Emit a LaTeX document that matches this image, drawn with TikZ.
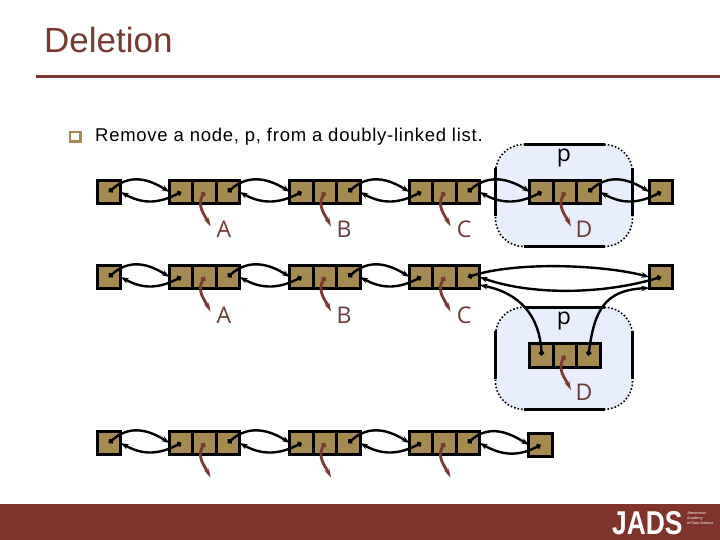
\documentclass[tikz,border=0pt]{standalone}
\usepackage{fontspec}
\setmainfont{Liberation Sans}
\newfontfamily\lblfont{Open Sans}
\newfontfamily\spacedfont[LetterSpace=4]{Liberation Sans}
\usetikzlibrary{arrows.meta}
\definecolor{brick}{HTML}{7A3A32}
\definecolor{bar}{HTML}{7F342B}
\definecolor{cellfill}{HTML}{A58A52}
\definecolor{halo}{HTML}{E8EEFB}
\definecolor{lbltext}{HTML}{6E3A36}
\tikzset{
  cellbox/.style={draw=black,line width=3pt,fill=cellfill,inner sep=0,outer sep=0,minimum width=23.4pt,minimum height=23.2pt},
  linkline/.style={draw=black,line width=2.4pt,{Circle[length=5pt]}-{Stealth[length=8pt,width=5.5pt]}},
  itemline/.style={draw=brick,line width=2.8pt,{Circle[length=5pt]}-{Stealth[length=9pt,width=5pt]}},
  halobox/.style={fill=halo,draw=black,line width=1.6pt,dotted,rounded corners=28pt,inner sep=0,outer sep=0,minimum width=137pt,minimum height=102pt},
  halorule/.style={draw=black,line width=2.4pt,solid},
  itemlabel/.style={font=\lblfont\fontsize{23}{23}\selectfont,text=lbltext,inner sep=0},
  plabel/.style={font=\lblfont\fontsize{23}{23}\selectfont,text=black,inner sep=0}
}
% three-cell list node: name, centre x of the middle cell, centre y
\newcommand{\listnode}[3]{%
  \node[cellbox] (#1l) at (#2-23.4,#3) {};
  \node[cellbox] (#1m) at (#2,#3) {};
  \node[cellbox] (#1r) at (#2+23.4,#3) {};
}
\newcommand{\dlink}[2]{%
  \draw[linkline] (#1.center) .. controls +(20,-18) and +(-22,-14) .. (#2.west);
  \draw[linkline] (#2.center) .. controls +(-25,13) and +(20,11) .. (#1.east);
}
\newcommand{\itemptr}[1]{%
  \coordinate (#1end) at ([xshift=6pt,yshift=-23pt]#1m.south);
  \draw[itemline] (#1m.center) .. controls +(-8,14) and +(-6,-12) .. (#1end);
}
\newcommand{\halo}[2]{%
  \node[halobox] (#1) at #2 {};
  \draw[halorule] ([xshift=28pt]#1.north west) -- ([xshift=-28pt]#1.north east);
  \draw[halorule] ([xshift=28pt]#1.south west) -- ([xshift=-28pt]#1.south east);
  \draw[halorule] ([yshift=-24pt]#1.north west) -- ([yshift=30pt]#1.south west);
  \draw[halorule] ([yshift=-24pt]#1.north east) -- ([yshift=30pt]#1.south east);
}
\begin{document}
\begin{tikzpicture}[x=1pt,y=-1pt]
\useasboundingbox (0,0) rectangle (720,540);
\fill[white] (0,0) rectangle (720,540);
% header
\node[anchor=base west,inner sep=0,text=brick,font=\fontsize{35}{35}\selectfont] (title) at (44,53) {Deletion};
\coordinate (ruleL) at (36,77);
\coordinate (ruleR) at (720,77);
\draw[brick,line width=3pt] (ruleL) -- (ruleR);
\node[draw=cellfill,line width=2.6pt,fill=white,inner sep=0,minimum width=10.4pt,minimum height=9.6pt] (bullet) at (75.3,137) {};
\node[anchor=base west,inner sep=0,text=black,font=\spacedfont\fontsize{18.5}{19}\selectfont] (body) at (95,142) {Remove a node, p, from a doubly-linked list.};
% halos
\halo{haloA}{(564,195.5)}
\halo{haloB}{(564,358.3)}
% footer
\fill[bar] (0,504) rectangle (720,540);
\node[anchor=base west,inner sep=0,text=white,font=\bfseries\fontsize{33}{33}\selectfont,xscale=0.8] (logo) at (612,534) {JADS};
\node[anchor=west,inner sep=0,text=white,align=left,font=\fontsize{3.7}{5}\selectfont] (logotext) at (687,518) {Jheronimus\\Academy\\of Data Science};
% row 1
\node[cellbox,minimum width=23.4pt] (a0) at (109,192) {};
\listnode{a1}{204.5}{192}
\listnode{a2}{325}{192}
\listnode{a3}{444.5}{192}
\listnode{a4}{565}{192}
\node[cellbox] (a5) at (661,192) {};
\dlink{a0}{a1l}\dlink{a1r}{a2l}\dlink{a2r}{a3l}\dlink{a3r}{a4l}\dlink{a4r}{a5}
\itemptr{a1}\itemptr{a2}\itemptr{a3}\itemptr{a4}
\node[plabel] (pa) at (564,158) {p};
\node[itemlabel] (la1) at (224,229) {A};
\node[itemlabel] (la2) at (344,229) {B};
\node[itemlabel] (la3) at (464,229) {C};
\node[itemlabel] (la4) at (584,229) {D};
% row 2
\node[cellbox] (b0) at (109,277) {};
\listnode{b1}{204.5}{277}
\listnode{b2}{325}{277}
\listnode{b3}{444.5}{277}
\node[cellbox] (b5) at (661,277) {};
\listnode{b4}{565}{355.5}
\dlink{b0}{b1l}\dlink{b1r}{b2l}\dlink{b2r}{b3l}
\draw[linkline] (b3r.center) .. controls +(50,-16) and +(-45,-12) .. (b5.west);
\draw[linkline] (b5.center) .. controls +(-60,18) and +(50,18) .. (b3r.east);
\draw[linkline] (b4l.center) .. controls +(-2,-40) and +(40,8) .. ([yshift=-8pt]b3r.east);
\draw[linkline] (b4r.center) .. controls +(6,-45) and +(-45,2) .. ([yshift=-11pt]b5.west);
\itemptr{b1}\itemptr{b2}\itemptr{b3}\itemptr{b4}
\node[plabel] (pb) at (564,321) {p};
\node[itemlabel] (lb1) at (224,315) {A};
\node[itemlabel] (lb2) at (344,315) {B};
\node[itemlabel] (lb3) at (464,315) {C};
\node[itemlabel] (lb4) at (584,392) {D};
% row 3
\node[cellbox] (c0) at (109,443) {};
\listnode{c1}{204.5}{443}
\listnode{c2}{325}{443}
\listnode{c3}{444.5}{443}
\node[cellbox] (c5) at (540.5,445) {};
\dlink{c0}{c1l}\dlink{c1r}{c2l}\dlink{c2r}{c3l}\dlink{c3r}{c5}
\itemptr{c1}\itemptr{c2}\itemptr{c3}
\end{tikzpicture}
\end{document}
